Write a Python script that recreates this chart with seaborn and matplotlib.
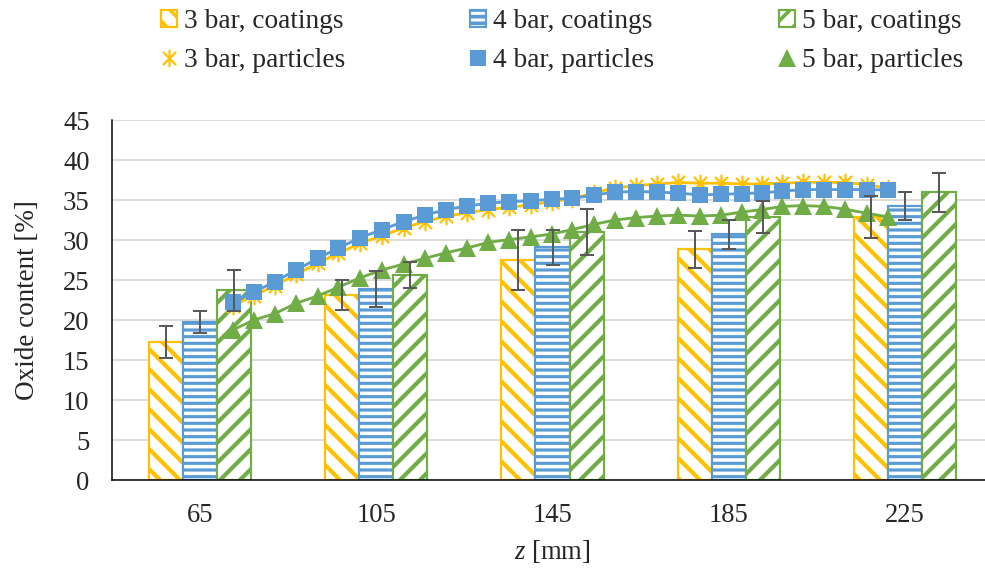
import numpy as np
import pandas as pd
import matplotlib
matplotlib.use("Agg")
import matplotlib.pyplot as plt
from matplotlib.path import Path
from matplotlib.patches import Patch
from matplotlib.lines import Line2D
import seaborn as sns

# ---- data -------------------------------------------------------------
z_positions = [65, 105, 145, 185, 225]
coating_labels = ["3 bar, coatings", "4 bar, coatings", "5 bar, coatings"]
particle_labels = ["3 bar, particles", "4 bar, particles", "5 bar, particles"]

coating_3bar = [17.3, 23.1, 27.5, 28.85, 32.9]
coating_3bar_err = [2.0, 1.9, 3.8, 2.3, 2.6]
coating_4bar = [19.75, 23.9, 29.1, 30.7, 34.25]
coating_4bar_err = [1.4, 2.25, 2.2, 1.8, 1.8]
coating_5bar = [23.7, 25.6, 31.0, 32.9, 35.95]
coating_5bar_err = [2.6, 1.6, 2.85, 2.0, 2.4]

particle_z = [72.4, 77.2, 82.0, 86.8, 91.7, 96.4, 101.4, 106.3, 111.2, 116.0,
              120.8, 125.6, 130.4, 135.1, 140.2, 144.8, 149.5, 154.4, 159.2, 164.0,
              168.8, 173.6, 178.4, 183.2, 188.0, 192.5, 197.2, 201.9, 206.7, 211.4,
              216.3, 221.1]
particle_3bar = [21.8, 23.05, 24.3, 25.7, 27.1, 28.35, 29.6, 30.55, 31.5, 32.3,
                 32.95, 33.4, 33.8, 34.1, 34.4, 34.8, 35.15, 35.9, 36.5, 36.8,
                 37.0, 37.2, 37.1, 37.1, 37.0, 37.0, 37.1, 37.2, 37.2, 37.2,
                 36.9, 36.5]
particle_4bar = [22.2, 23.5, 24.8, 26.25, 27.7, 29.0, 30.3, 31.3, 32.3, 33.1,
                 33.8, 34.25, 34.6, 34.8, 34.9, 35.1, 35.2, 35.6, 36.0, 36.05,
                 36.0, 35.85, 35.65, 35.7, 35.8, 35.9, 36.1, 36.3, 36.3, 36.3,
                 36.3, 36.25]
particle_5bar = [18.75, 20.0, 20.8, 22.1, 23.0, 24.1, 25.3, 26.25, 27.0, 27.7,
                 28.4, 29.0, 29.7, 30.05, 30.4, 30.75, 31.3, 31.95, 32.5, 32.8,
                 33.0, 33.1, 33.0, 33.1, 33.5, 33.8, 34.2, 34.3, 34.2, 33.85,
                 33.35, 32.9]

# ---- style ------------------------------------------------------------
YELLOW, BLUE, GREEN = "#FFC000", "#5B9BD5", "#70AD47"
ERR_GRAY = "#595959"
colors = [YELLOW, BLUE, GREEN]
hatches = ["\\\\", "---", "//"]

sns.set_style("white")
plt.rcParams["font.family"] = ["Liberation Serif", "DejaVu Serif"]
plt.rcParams["mathtext.fontset"] = "custom"
plt.rcParams["mathtext.rm"] = "Liberation Serif"
plt.rcParams["mathtext.it"] = "Liberation Serif:italic"
plt.rcParams["font.size"] = 16
plt.rcParams["hatch.linewidth"] = 2.2

DPI = 120
fig = plt.figure(figsize=(985 / DPI, 569 / DPI), dpi=DPI)
ax = fig.add_axes([112 / 985, 89 / 569, 881 / 985, 360 / 569])

# ---- coating bars ------------------------------------------------------
bars = pd.DataFrame({
    "z": np.tile(z_positions, 3),
    "content": coating_3bar + coating_4bar + coating_5bar,
    "series": np.repeat(coating_labels, len(z_positions)),
})
sns.barplot(data=bars, x="z", y="content", hue="series", hue_order=coating_labels,
            palette=colors, native_scale=True, width=0.58, fill=False,
            linewidth=1.3, errorbar=None, legend=False, ax=ax, zorder=2)

coating_errs = [coating_3bar_err, coating_4bar_err, coating_5bar_err]
for cont, color, hatch, errs in zip(ax.containers, colors, hatches, coating_errs):
    xs, hs = [], []
    for bar in cont:
        bar.set_facecolor("white")
        bar.set_edgecolor(color)
        bar.set_hatch(hatch)
        if hasattr(bar, "set_hatch_linewidth"):
            bar.set_hatch_linewidth(1.9 if hatch == "---" else 2.5)
        xs.append(bar.get_x() + bar.get_width() / 2)
        hs.append(bar.get_height())
    ax.errorbar(xs, hs, yerr=errs, fmt="none", ecolor=ERR_GRAY, elinewidth=1.2,
                capsize=4, capthick=1.2, zorder=6)

# ---- particle lines ---------------------------------------------------
asterisk = Path([(0, -1), (0, 1), (-0.75, -0.75), (0.75, 0.75),
                 (-0.75, 0.75), (0.75, -0.75)],
                [Path.MOVETO, Path.LINETO, Path.MOVETO, Path.LINETO,
                 Path.MOVETO, Path.LINETO])
particle_series = [particle_3bar, particle_4bar, particle_5bar]
marker_specs = [
    dict(marker=asterisk, markersize=10.5, markeredgewidth=1.3,
         markeredgecolor=YELLOW, markerfacecolor="none"),
    dict(marker="s", markersize=9.8, markeredgewidth=0,
         markerfacecolor=BLUE),
    dict(marker="^", markersize=10.5, markeredgewidth=0,
         markerfacecolor=GREEN),
]
for values, color, spec in zip(particle_series, colors, marker_specs):
    sns.lineplot(x=particle_z, y=values, color=color, linewidth=1.7,
                 ax=ax, zorder=3, legend=False, **spec)

# ---- axes --------------------------------------------------------------
ax.set_xlim(45, 245)
ax.set_ylim(0, 45)
ax.set_xticks(z_positions)
ax.set_xticklabels([str(z) for z in z_positions])
ax.set_xticks([45, 85, 125, 165, 205, 245], minor=True)
ax.set_yticks(range(0, 50, 5))
ax.tick_params(axis="x", which="major", length=0, pad=14, labelsize=16)
ax.tick_params(axis="x", which="minor", length=4, width=0.9, direction="out",
               color="black")
ax.tick_params(axis="y", length=4.5, width=0.9, direction="out", color="black",
               pad=9, labelsize=16)
ax.yaxis.grid(True, color="#D9D9D9", linewidth=1.1)
ax.xaxis.grid(False)
ax.set_axisbelow(True)
for side in ("top", "right"):
    ax.spines[side].set_visible(False)
for side in ("left", "bottom"):
    ax.spines[side].set_color("black")
    ax.spines[side].set_linewidth(0.9)

ax.set_xlabel("$z$ [mm]", fontsize=16, labelpad=6)
ax.set_ylabel("Oxide content [%]", fontsize=16.3, labelpad=14)

# ---- legend ------------------------------------------------------------
handles, labels = [], []
for i in range(3):
    handles.append(Patch(facecolor="white", edgecolor=colors[i], hatch=hatches[i],
                         linewidth=1.3))
    labels.append(coating_labels[i])
    handles.append(Line2D([], [], linestyle="none", color=colors[i], **marker_specs[i]))
    labels.append(particle_labels[i])
fig.legend(handles, labels, ncol=3, loc="upper left",
           bbox_to_anchor=(161 / 985, 1 - 9 / 569), frameon=False,
           borderpad=0, borderaxespad=0, handlelength=0.6, handleheight=0.6,
           handletextpad=0.25, columnspacing=4.55, labelspacing=0.5, fontsize=16.4)

fig.savefig("out.png", dpi=DPI)
